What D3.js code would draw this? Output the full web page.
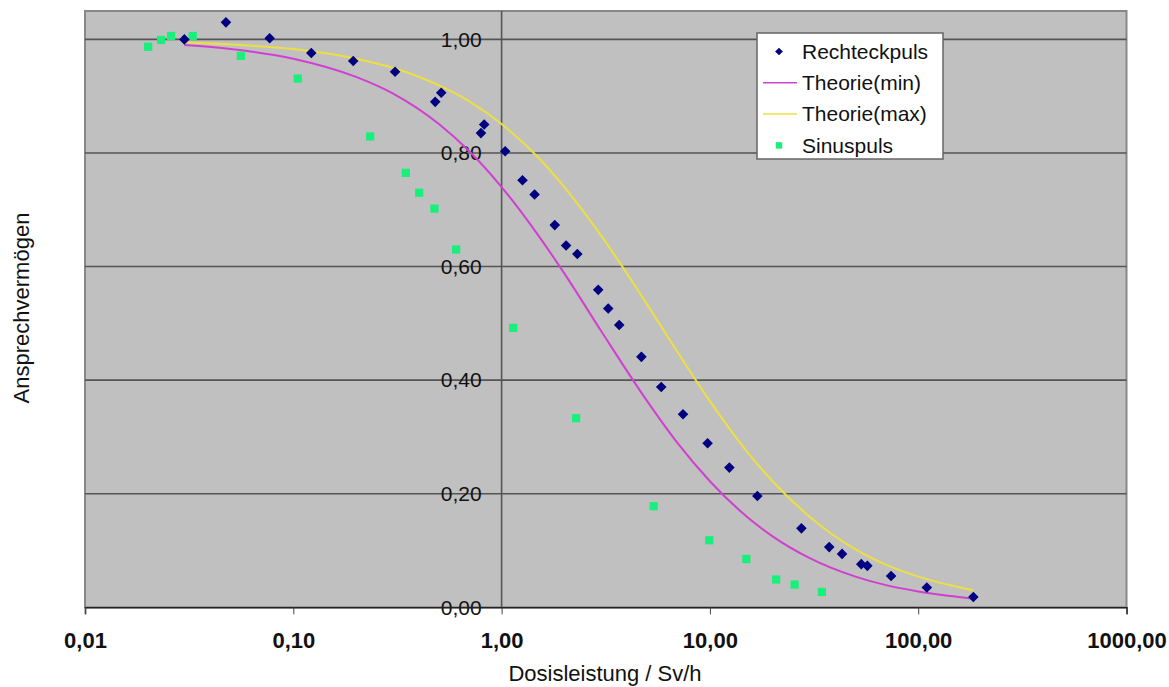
<!DOCTYPE html>
<html>
<head>
<meta charset="utf-8">
<script src="https://cdn.jsdelivr.net/npm/d3@7"></script>
<style>
  body { margin: 0; background: #fff; }
  text { font-family: Arial, "Liberation Sans", sans-serif; }
</style>
</head>
<body>
<div id="chart"></div>
<script>
// data
const rechteckX = [0.030, 0.0475, 0.077, 0.122, 0.194, 0.308, 0.480, 0.513, 0.796, 0.825,
  1.04, 1.26, 1.44, 1.80, 2.04, 2.31, 2.91, 3.25, 3.67, 4.69, 5.84, 7.43, 9.75, 12.4,
  16.9, 27.5, 37.4, 43.1, 53.3, 57.0, 74.1, 110, 184];
const rechteckY = [1.000, 1.030, 1.002, 0.976, 0.962, 0.943, 0.890, 0.906, 0.835, 0.850,
  0.803, 0.752, 0.727, 0.673, 0.637, 0.622, 0.559, 0.526, 0.497, 0.441, 0.388, 0.340, 0.289, 0.246,
  0.196, 0.139, 0.106, 0.094, 0.076, 0.073, 0.055, 0.035, 0.018];

const sinusX = [0.0201, 0.0232, 0.0259, 0.0329, 0.056, 0.105, 0.234, 0.347, 0.402, 0.476,
  0.605, 1.137, 2.28, 5.37, 9.93, 14.96, 20.8, 25.5, 34.5];
const sinusY = [0.987, 0.999, 1.006, 1.006, 0.971, 0.931, 0.829, 0.765, 0.730, 0.702,
  0.630, 0.492, 0.333, 0.178, 0.118, 0.085, 0.049, 0.040, 0.027];

const theorieX = [0.03, 0.05, 0.1, 0.2, 0.3, 0.5, 0.7, 1, 1.5, 2, 3, 5, 7, 10, 15, 20, 30, 50, 70, 100, 150, 184];
const theorieMin = [0.990, 0.983, 0.966, 0.934, 0.905, 0.851, 0.803, 0.740, 0.655, 0.588, 0.487, 0.363,
  0.289, 0.222, 0.160, 0.125, 0.087, 0.054, 0.039, 0.028, 0.019, 0.015];
const theorieMax = [0.995, 0.991, 0.983, 0.966, 0.950, 0.919, 0.891, 0.851, 0.792, 0.740, 0.655, 0.533,
  0.449, 0.363, 0.275, 0.222, 0.160, 0.102, 0.075, 0.054, 0.037, 0.030];

const xTicks = [0.01, 0.1, 1, 10, 100, 1000];
const yTicks = [0, 0.2, 0.4, 0.6, 0.8, 1.0];
const legendNames = ["Rechteckpuls", "Theorie(min)", "Theorie(max)", "Sinuspuls"];

const width = 1169, height = 687;
const plotLeft = 85, plotRight = 1126.5, plotTop = 11, plotBottom = 607.3;

const svg = d3.select("#chart").append("svg")
  .attr("width", width)
  .attr("height", height);

const x = d3.scaleLog().domain([0.01, 1000]).range([plotLeft, plotRight]);
const y = d3.scaleLinear().domain([0, 1.05]).range([plotBottom, plotTop]);

const comma = v => d3.format(".2f")(v).replace(".", ",");

// plot background + frame
svg.append("rect")
  .attr("x", plotLeft).attr("y", plotTop)
  .attr("width", plotRight - plotLeft).attr("height", plotBottom - plotTop)
  .attr("fill", "#c0c0c0")
  .attr("stroke", "#888").attr("stroke-width", 2);

// horizontal gridlines
svg.append("g").selectAll("line")
  .data(yTicks.filter(d => d > 0))
  .join("line")
  .attr("x1", plotLeft).attr("x2", plotRight)
  .attr("y1", d => y(d)).attr("y2", d => y(d))
  .attr("stroke", "#555").attr("stroke-width", 1.6);

// y axis sitting at x = 1
const yAxis = svg.append("g")
  .attr("transform", `translate(${x(1)},0)`)
  .call(d3.axisLeft(y).tickValues(yTicks).tickFormat(comma).tickSize(0).tickPadding(20));
yAxis.select(".domain").remove();
yAxis.append("line")
  .attr("y1", plotTop).attr("y2", plotBottom)
  .attr("stroke", "#555").attr("stroke-width", 1.6);
yAxis.selectAll("text")
  .attr("font-size", 21)
  .attr("fill", "#111");

// x axis
const xAxis = svg.append("g")
  .attr("transform", `translate(0,${plotBottom})`)
  .call(d3.axisBottom(x).tickValues(xTicks).tickFormat(comma).tickSize(7).tickPadding(18));
xAxis.select(".domain").attr("stroke", "#222").attr("stroke-width", 1.6);
xAxis.selectAll("line").attr("stroke", "#444");
xAxis.selectAll("text")
  .attr("font-size", 22)
  .attr("font-weight", "bold")
  .attr("fill", "#111");

// axis titles
svg.append("text")
  .attr("x", 605).attr("y", 681)
  .attr("text-anchor", "middle")
  .attr("font-size", 22)
  .attr("fill", "#111")
  .text("Dosisleistung / Sv/h");

svg.append("text")
  .attr("transform", "translate(29,308) rotate(-90)")
  .attr("text-anchor", "middle")
  .attr("font-size", 22)
  .attr("fill", "#111")
  .text("Ansprechvermögen");

// theory curves
const line = d3.line()
  .x(d => x(d[0]))
  .y(d => y(d[1]))
  .curve(d3.curveMonotoneX);

svg.append("path")
  .datum(theorieX.map((v, i) => [v, theorieMin[i]]))
  .attr("d", line)
  .attr("fill", "none")
  .attr("stroke", "#d040d0").attr("stroke-width", 2);

svg.append("path")
  .datum(theorieX.map((v, i) => [v, theorieMax[i]]))
  .attr("d", line)
  .attr("fill", "none")
  .attr("stroke", "#ece040").attr("stroke-width", 2);

// markers
const diamond = d3.symbol(d3.symbolSquare, 56);
const square = d3.symbol(d3.symbolSquare, 68);

svg.append("g").selectAll("path")
  .data(sinusX.map((v, i) => [v, sinusY[i]]))
  .join("path")
  .attr("d", square)
  .attr("transform", d => `translate(${x(d[0])},${y(d[1])})`)
  .attr("fill", "#19f07c");

svg.append("g").selectAll("path")
  .data(rechteckX.map((v, i) => [v, rechteckY[i]]))
  .join("path")
  .attr("d", diamond)
  .attr("transform", d => `translate(${x(d[0])},${y(d[1])}) rotate(45)`)
  .attr("fill", "#000080");

// legend
const lg = svg.append("g");
lg.append("rect")
  .attr("x", 757).attr("y", 33)
  .attr("width", 186).attr("height", 126)
  .attr("fill", "#fff")
  .attr("stroke", "#666").attr("stroke-width", 1.5);

const rowY = i => 51.5 + i * 31.3;

lg.selectAll("text")
  .data(legendNames)
  .join("text")
  .attr("x", 802).attr("y", (d, i) => rowY(i))
  .attr("dy", "0.35em")
  .attr("font-size", 21)
  .attr("fill", "#111")
  .text(d => d);

lg.append("path")
  .attr("d", d3.symbol(d3.symbolSquare, 30))
  .attr("transform", `translate(779,${rowY(0)}) rotate(45)`)
  .attr("fill", "#000080");
lg.append("line")
  .attr("x1", 763).attr("x2", 797)
  .attr("y1", rowY(1)).attr("y2", rowY(1))
  .attr("stroke", "#d040d0").attr("stroke-width", 1.5);
lg.append("line")
  .attr("x1", 763).attr("x2", 797)
  .attr("y1", rowY(2)).attr("y2", rowY(2))
  .attr("stroke", "#ece040").attr("stroke-width", 1.5);
lg.append("path")
  .attr("d", d3.symbol(d3.symbolSquare, 42))
  .attr("transform", `translate(779,${rowY(3)})`)
  .attr("fill", "#19f07c");
</script>
</body>
</html>
